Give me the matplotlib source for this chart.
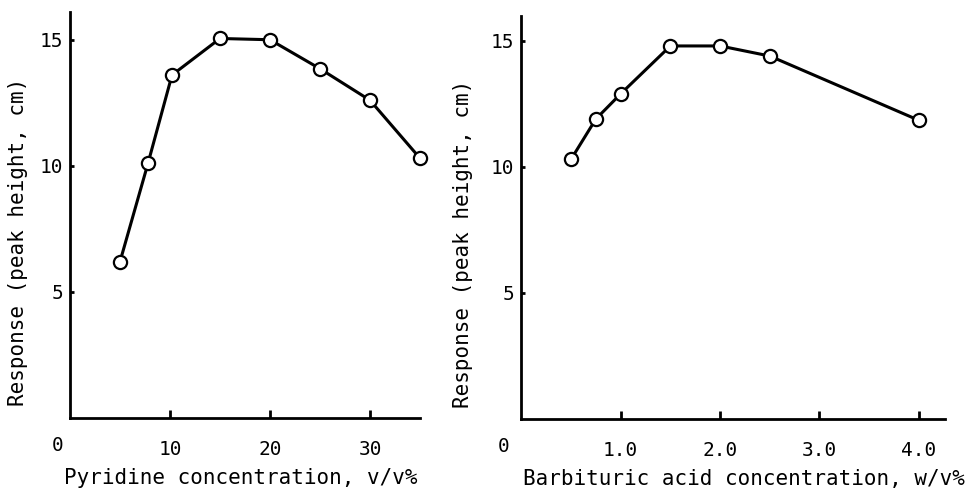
import matplotlib
matplotlib.use('Agg')
import matplotlib.pyplot as plt

# left panel: pyridine concentration (v/v%) vs response (peak height, cm)
pyridine_conc = [5, 7.8, 10.2, 15, 20, 25, 30, 35]
pyridine_resp = [6.2, 10.1, 13.6, 15.05, 15.0, 13.85, 12.6, 10.3]

# right panel: barbituric acid concentration (w/v%) vs response
barb_conc = [0.5, 0.75, 1.0, 1.5, 2.0, 2.5, 4.0]
barb_resp = [10.3, 11.9, 12.9, 14.8, 14.8, 14.4, 11.85]

pyridine_ticks = [10, 20, 30]
barb_ticks = [1.0, 2.0, 3.0, 4.0]
barb_ticklabels = ['1.0', '2.0', '3.0', '4.0']
y_ticks = [5, 10, 15]

ylabel = 'Response (peak height, cm)'

plt.rcParams['font.family'] = 'DejaVu Sans Mono'

fig = plt.figure(figsize=(9.66, 4.88), dpi=100)
ax1 = fig.add_axes([70 / 966, 1 - 418 / 488, 350 / 966, 406 / 488])
ax2 = fig.add_axes([521.3 / 966, 1 - 419 / 488, 423.4 / 966, 403.3 / 488])


def style_axes(ax, xs, ys, xlim, ylim_top, xticks, xticklabels, xlabel, xlab_x, ylab_xy, zero_dx):
    ax.plot(xs, ys, color='black', lw=2.2, marker='o', ms=9.5,
            mfc='white', mec='black', mew=1.6, clip_on=False, zorder=3)
    ax.set_xlim(*xlim)
    ax.set_ylim(0, ylim_top)
    for s in ['top', 'right']:
        ax.spines[s].set_visible(False)
    for s in ['left', 'bottom']:
        ax.spines[s].set_linewidth(2)
    ax.set_xticks(xticks)
    ax.set_xticklabels(xticklabels)
    ax.set_yticks(y_ticks)
    ax.tick_params(axis='x', direction='in', length=6, width=2, pad=16, labelsize=14)
    ax.tick_params(axis='y', direction='in', length=3, width=2, pad=5, labelsize=14)
    # origin label sits below-left of the corner
    ax.annotate('0', xy=(0, 0), xycoords='data', xytext=(zero_dx, -20),
                textcoords='offset points', ha='center', va='center', fontsize=14)
    ax.set_xlabel(xlabel, fontsize=15)
    ax.xaxis.label.set_va('center')
    ax.xaxis.set_label_coords(xlab_x, -0.148)
    ax.set_ylabel(ylabel, fontsize=15)
    ax.yaxis.label.set_va('center')
    ax.yaxis.set_label_coords(*ylab_xy)


style_axes(ax1, pyridine_conc, pyridine_resp, (0, 35), 16.1,
           pyridine_ticks, [str(t) for t in pyridine_ticks],
           'Pyridine concentration, v/v%', 0.489, (-0.149, 0.433), -9)
style_axes(ax2, barb_conc, barb_resp, (0, 4.26), 16.0,
           barb_ticks, barb_ticklabels,
           'Barbituric acid concentration, w/v%', 0.526, (-0.138, 0.434), -13)

fig.savefig('out.png', dpi=100)
